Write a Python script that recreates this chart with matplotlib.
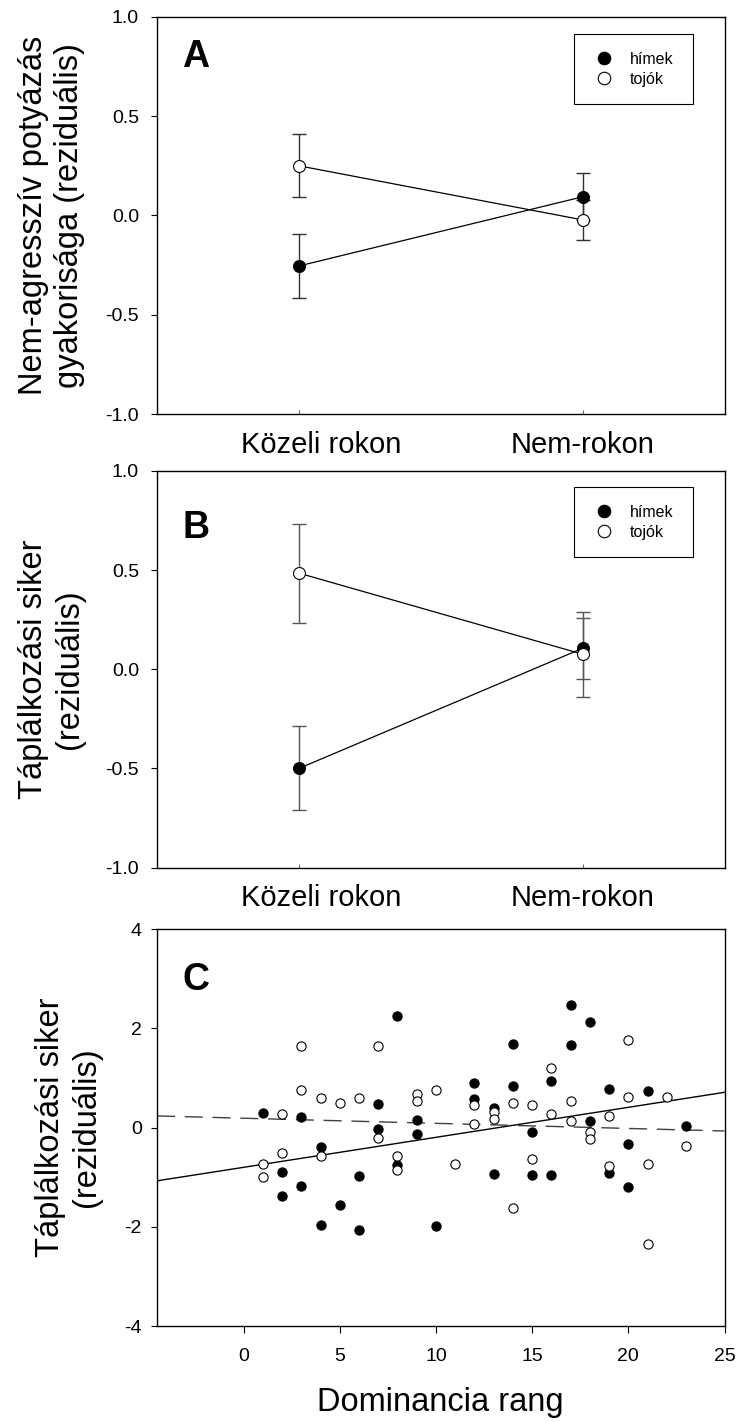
import numpy as np
import matplotlib
matplotlib.use("Agg")
import matplotlib.pyplot as plt
from matplotlib.lines import Line2D
from matplotlib.transforms import ScaledTranslation

plt.rcParams['font.family'] = ['Liberation Sans', 'DejaVu Sans']
plt.rcParams['axes.unicode_minus'] = False

# ---- data -------------------------------------------------------------
categories = ["Közeli rokon", "Nem-rokon"]
series_labels = ["hímek", "tojók"]

# A: non-aggressive scrounging frequency (residuals), mean ± SE
a_males = [-0.254, 0.094]
a_males_se = [0.163, 0.118]
a_females = [0.250, -0.022]
a_females_se = [0.159, 0.100]

# B: foraging success (residuals), mean ± SE
b_males = [-0.500, 0.106]
b_males_se = [0.212, 0.155]
b_females = [0.485, 0.076]
b_females_se = [0.250, 0.214]

# C: foraging success vs. dominance rank
rank_m = [1, 2, 2, 3, 3, 4, 4, 5, 6, 6, 7, 7, 8, 8, 9, 9, 10, 12, 12,
          13, 13, 14, 14, 15, 15, 16, 16, 17, 17, 18, 18, 19, 19, 20, 20,
          21, 23]
resid_m = [0.29, -0.90, -1.37, 0.21, -1.17, -0.40, -1.97, -1.55, -0.98,
           -2.07, 0.48, -0.03, 2.26, -0.76, 0.155, -0.135, -1.99, 0.90,
           0.58, 0.39, -0.93, 1.68, 0.835, -0.08, -0.96, 0.94, -0.96, 2.47,
           1.66, 2.13, 0.135, 0.77, -0.92, -0.32, -1.20, 0.73, 0.03]
rank_f = [1, 1, 2, 2, 3, 3, 4, 4, 5, 6, 7, 7, 8, 8, 9, 9, 10, 11, 12, 12,
          13, 13, 14, 14, 15, 15, 16, 16, 17, 17, 18, 18, 19, 19, 20, 20,
          21, 21, 22, 23]
resid_f = [-0.73, -1.00, 0.28, -0.52, 1.64, 0.76, 0.59, -0.565, 0.505,
           0.59, 1.64, -0.215, -0.58, -0.855, 0.68, 0.54, 0.76, -0.73, 0.45,
           0.07, 0.32, 0.18, 0.50, -1.62, 0.46, -0.63, 1.20, 0.28, 0.54,
           0.14, -0.08, -0.22, 0.24, -0.77, 1.77, 0.61, -0.73, -2.34, 0.61,
           -0.38]
# fitted lines (intercept, slope)
fit_m = (-0.80, 0.0605)
fit_f = (0.19, -0.0103)

# ---- layout -----------------------------------------------------------
fig = plt.figure(figsize=(7.37, 14.22), dpi=100)
L, W = 157 / 737, 567.5 / 737
axA = fig.add_axes([L, 0.70865, W, 0.27961])
axB = fig.add_axes([L, 0.38987, W, 0.27891])
axC = fig.add_axes([L, 0.06751, W, 0.27897])

TICK_FS = 14
LABEL_FS = 23.5
CAT_FS = 21
MS = 8.6


def frame(ax):
    for sp in ax.spines.values():
        sp.set_linewidth(1.0)
        sp.set_color('black')


def interaction_panel(ax, males, males_se, females, females_se, ylabel,
                      letter, ecolor, letter_y, legend_top):
    x = np.arange(len(categories))
    ax.errorbar(x, males, yerr=males_se, fmt='none', ecolor=ecolor,
                elinewidth=1.0, capsize=5, capthick=1.0, zorder=1)
    ax.errorbar(x, females, yerr=females_se, fmt='none', ecolor=ecolor,
                elinewidth=1.0, capsize=5, capthick=1.0, zorder=1)
    ax.plot(x, males, '-', color='black', lw=0.9, zorder=2)
    ax.plot(x, females, '-', color='black', lw=0.9, zorder=2)
    ax.plot(x, males, 'o', ms=MS, mfc='black', mec='black', mew=0.8,
            zorder=3)
    ax.plot(x, females, 'o', ms=MS, mfc='white', mec='black', mew=0.8,
            zorder=4)

    ax.set_xlim(-0.5, 1.5)
    ax.set_ylim(-1.0, 1.0)
    ax.set_yticks([-1.0, -0.5, 0.0, 0.5, 1.0])
    ax.set_yticklabels([f"{v:.1f}" for v in [-1.0, -0.5, 0.0, 0.5, 1.0]])
    ax.set_xticks(x)
    ax.set_xticklabels(categories)
    ax.tick_params(axis='y', direction='out', length=4, width=0.8,
                   labelsize=TICK_FS, pad=9)
    ax.tick_params(axis='x', direction='in', length=3, width=0.8,
                   color='0.4', labelsize=CAT_FS, pad=12)
    ax.set_ylabel(ylabel, fontsize=LABEL_FS)
    ax.yaxis.set_label_coords(-0.127, 0.5)
    frame(ax)

    ax.text(0.045, letter_y, letter, transform=ax.transAxes,
            fontsize=27, fontweight='bold', va='center', ha='left')

    handles = [Line2D([], [], ls='none', marker='o', ms=9, mfc='black',
                      mec='black', mew=0.8),
               Line2D([], [], ls='none', marker='o', ms=9, mfc='white',
                      mec='black', mew=0.8)]
    leg = ax.legend(handles, series_labels, loc='upper left',
                    bbox_to_anchor=(0.735, legend_top, 0.21, 0),
                    mode='expand', borderaxespad=0, fontsize=11.5,
                    frameon=True, fancybox=False, framealpha=1,
                    edgecolor='black', handlelength=1.5, handletextpad=0.9,
                    borderpad=1.1, labelspacing=0.3)
    leg.get_frame().set_linewidth(0.8)

    # the first category label sits slightly right of its tick
    lab = ax.get_xticklabels()[0]
    lab.set_transform(lab.get_transform() +
                      ScaledTranslation(0.22, 0, fig.dpi_scale_trans))


interaction_panel(axA, a_males, a_males_se, a_females, a_females_se,
                  "Nem-agresszív potyázás\ngyakorisága (reziduális)", "A",
                  '#303030', 0.899, 0.956)
interaction_panel(axB, b_males, b_males_se, b_females, b_females_se,
                  "Táplálkozási siker\n(reziduális)", "B",
                  '#555555', 0.856, 0.959)

# ---- panel C ------------------------------------------------------------
axC.set_xlim(-4.5, 25)
axC.set_ylim(-4, 4)
xs = np.array(axC.get_xlim())
axC.plot(xs, fit_m[0] + fit_m[1] * xs, color='black', lw=1.0, zorder=1)
axC.plot(xs, fit_f[0] + fit_f[1] * xs, color='#404040', lw=1.0,
         ls=(0, (13, 7)), zorder=1)
axC.scatter(rank_m, resid_m, s=44, c='black', edgecolors='black',
            linewidths=0.8, zorder=3)
axC.scatter(rank_f, resid_f, s=44, facecolors='white', edgecolors='black',
            linewidths=0.8, zorder=4)
axC.set_xticks([0, 5, 10, 15, 20, 25])
axC.set_yticks([-4, -2, 0, 2, 4])
axC.tick_params(axis='x', direction='out', length=5, width=0.8,
                labelsize=TICK_FS, pad=11)
axC.tick_params(axis='y', direction='out', length=4, width=0.8,
                labelsize=TICK_FS, pad=7)
axC.set_ylabel("Táplálkozási siker\n(reziduális)", fontsize=LABEL_FS)
axC.yaxis.set_label_coords(-0.097, 0.5)
axC.set_xlabel("Dominancia rang", fontsize=LABEL_FS, labelpad=16)
frame(axC)
axC.text(0.045, 0.872, "C", transform=axC.transAxes, fontsize=27,
         fontweight='bold', va='center', ha='left')

fig.savefig("out.png", dpi=100, facecolor='white')
